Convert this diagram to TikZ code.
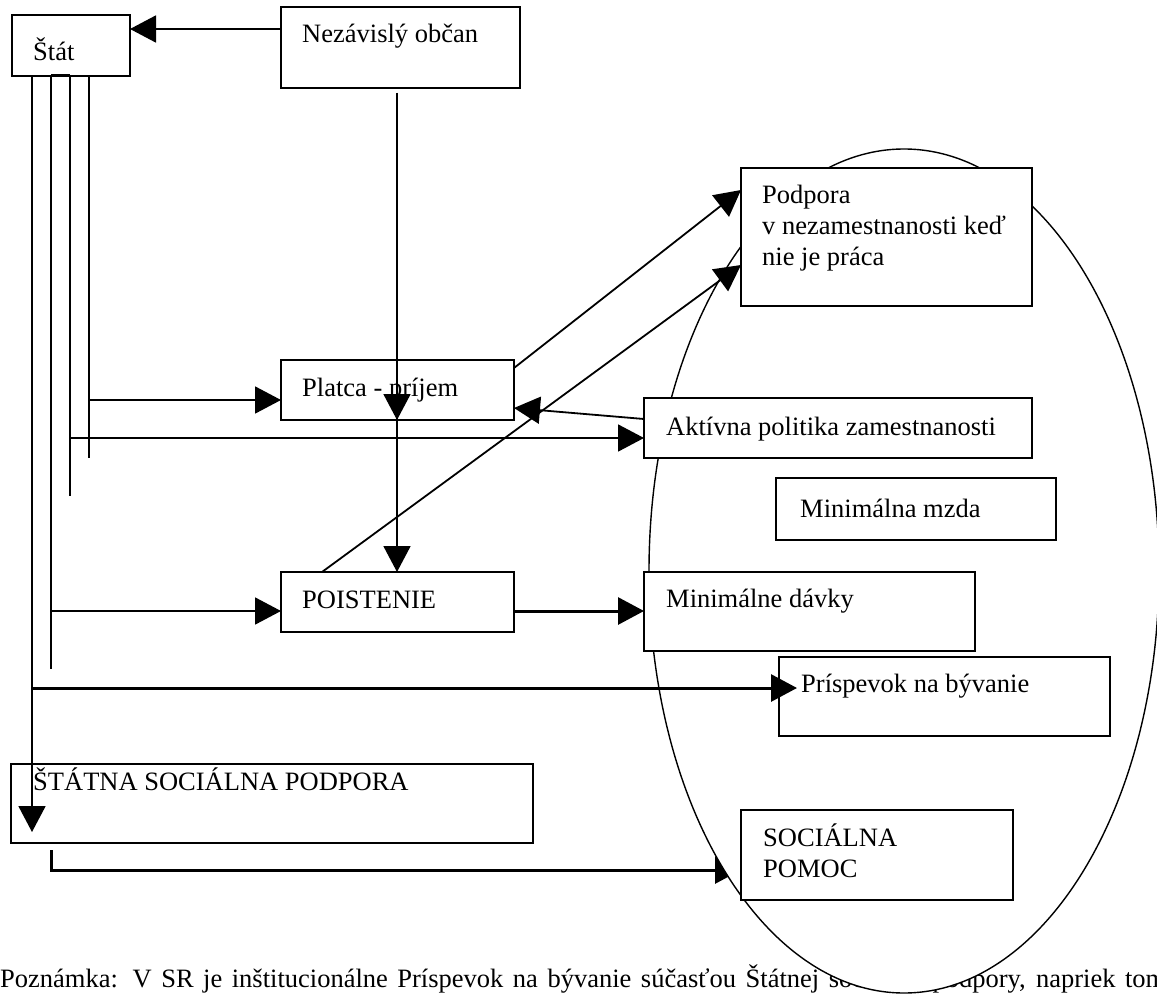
\documentclass[tikz,border=0pt]{standalone}
\usepackage{fontspec}
\setmainfont{Liberation Serif}
\usetikzlibrary{arrows.meta}
\pgfdeclarelayer{lnote}
\pgfdeclarelayer{larrow}
\pgfdeclarelayer{lell}
\pgfsetlayers{lnote,larrow,lell,main}
\newcommand\fsz{\fontsize{26.5}{31}\selectfont}
\begin{document}
\begin{tikzpicture}[x=1pt,y=-1pt,
  box/.style={draw, line width=2pt, fill=white, inner sep=0pt, outer sep=0pt, anchor=north west},
  lbl/.style={anchor=base west, inner sep=0pt, font=\fsz, align=left},
  conn/.style={line width=1.8pt},
  heavy/.style={line width=3pt},
  arw/.style={-{Triangle[length=26pt,width=27pt]}},
]
\useasboundingbox (0,0) rectangle (1157,998);

% boxes
\node[box, minimum width=118pt, minimum height=61pt] (stat) at (12,15) {};
\node[box, minimum width=239pt, minimum height=81pt] (nez) at (281,7) {};
\node[box, minimum width=291pt, minimum height=138pt] (podpora) at (741,168) {};
\node[box, minimum width=233pt, minimum height=60pt] (platca) at (281,360) {};
\node[box, minimum width=388pt, minimum height=60pt] (aktivna) at (644,398) {};
\node[box, minimum width=280pt, minimum height=62pt] (mzda) at (776,478) {};
\node[box, minimum width=233pt, minimum height=60pt] (poist) at (281,572) {};
\node[box, minimum width=331pt, minimum height=79pt] (mindavky) at (644,572) {};
\node[box, minimum width=331pt, minimum height=79pt] (prisp) at (779,657) {};
\node[box, minimum width=522pt, minimum height=79pt] (statna) at (11,764) {};
\node[box, minimum width=272pt, minimum height=90pt] (socpom) at (741,810) {};

% texts (multi-line nodes: base = baseline of the last line)
\node[lbl] (tstat) at (33,60) {Štát};
\node[lbl] (tnez) at (302,43) {Nezávislý občan};
\node[lbl] (tpod) at (762,265) {Podpora\\v nezamestnanosti keď\\nie je práca};
\node[lbl] (tplat) at (302,396) {Platca - príjem};
\node[lbl] (takt) at (666,435) {Aktívna politika zamestnanosti};
\node[lbl] (tmzda) at (800,517) {Minimálna mzda};
\node[lbl] (tpoist) at (302,608) {POISTENIE};
\node[lbl] (tmind) at (666,607) {Minimálne dávky};
\node[lbl] (tprisp) at (801,692) {Príspevok na bývanie};
\node[lbl] (tstatna) at (33,790) {ŠTÁTNA SOCIÁLNA PODPORA};
\node[lbl] (tsoc) at (763,877) {SOCIÁLNA\\POMOC};

% note (under the ellipse)
\begin{pgfonlayer}{lnote}
\node[lbl] (note) at (0,987) {\makebox[1166pt][s]{Poznámka: V SR je inštitucionálne Príspevok na bývanie súčasťou Štátnej sociálnej podpory, napriek tom}};
\end{pgfonlayer}

% ellipse
\begin{pgfonlayer}{lell}
\draw[line width=1.4pt, fill=white] (904,571) ellipse [x radius=255pt, y radius=422pt];
\end{pgfonlayer}

% connectors
\coordinate (nzb) at (397,93);
\draw[conn,arw] (nez.west |- 0,29) -- (stat.east |- 0,29);
\draw[conn,arw] (nzb) -- (platca.south -| nzb);
\draw[conn,arw] (nzb) -- (poist.north -| nzb);

\coordinate (s1) at (32,76);
\coordinate (s2) at (51,76);
\coordinate (s3) at (70,76);
\coordinate (s4) at (89,76);
\coordinate (stin) at (32,832);
\coordinate (prtip) at (797,688);
\draw[line width=3pt] (s2) -- (s3);
\draw[conn] (s4) -- (89,458);
\draw[conn,arw] (89,400) -- (platca.west |- 0,400);
\draw[conn] (s3) -- (70,496);
\draw[conn,arw] (70,438) -- (aktivna.west |- 0,438);
\draw[conn] (s2) -- (51,669);
\draw[conn,arw] (51,611) -- (poist.west |- 0,611);
\draw[conn,arw] (s1) -- (stin);
\draw[heavy,arw] (32,688) -- (prtip);
\draw[heavy,arw] (poist.east |- 0,611) -- (mindavky.west |- 0,611);
\draw[conn,arw] (aktivna.west |- 0,419) -- (platca.east |- 0,408);
\draw[conn,arw] (platca.east |- 0,368) -- (podpora.west |- 0,190);
\draw[conn,arw] (poist.north -| 322,0) -- (podpora.west |- 0,265);
\begin{pgfonlayer}{larrow}
\draw[heavy,arw] (51,850) -- (51,870) -- (socpom.west |- 0,870);
\end{pgfonlayer}
\end{tikzpicture}
\end{document}
